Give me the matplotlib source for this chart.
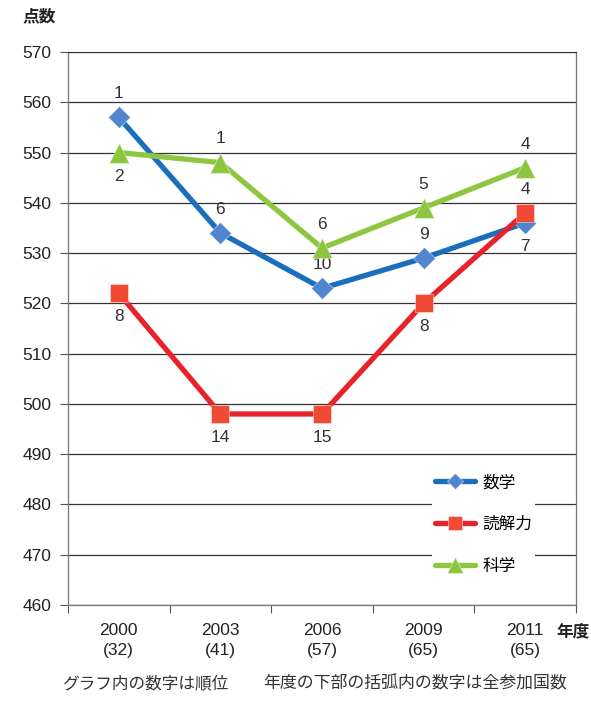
import matplotlib
import numpy as np

matplotlib.use("Agg")
import matplotlib.pyplot as plt

plt.rcParams["font.family"] = ["Liberation Sans", "Noto Sans CJK JP"]

jahre = ["2000", "2003", "2006", "2009", "2011"]
teilnehmer = ["(32)", "(41)", "(57)", "(65)", "(65)"]

mathe = [557, 534, 523, 529, 536]
lesen = [522, 498, 498, 520, 538]
natur = [550, 548, 531, 539, 547]

rang_mathe = [1, 6, 10, 9, 7]
rang_lesen = [8, 14, 15, 8, 4]
rang_natur = [2, 1, 6, 5, 4]

# +1 = Rang ueber dem Punkt, -1 = darunter
seite_mathe = [1, 1, 1, 1, -1]
seite_lesen = [-1, -1, -1, -1, 1]
seite_natur = [-1, 1, 1, 1, 1]

fig = plt.figure(figsize=(5.91, 7.02), dpi=100)
ax = fig.add_axes([68 / 591, 1 - 605 / 702, 508 / 591, 553 / 702])

x = np.arange(len(jahre))
reihen = [
    ("数学", mathe, rang_mathe, seite_mathe, "#1a6fbd", "D", "#4f86cf", 11.5),
    ("読解力", lesen, rang_lesen, seite_lesen, "#e8222a", "s", "#f04a35", 13),
    ("科学", natur, rang_natur, seite_natur, "#8dc63f", "^", "#8cc63f", 15),
]
for name, werte, raenge, seiten, farbe, marker, mfarbe, msize in reihen:
    ax.plot(x, werte, color=farbe, lw=3.8, marker=marker, ms=msize,
            mfc=mfarbe, mec="#ffffff80", mew=0.6, label=name, zorder=3,
            solid_capstyle="round")
    for xi, w, r, s in zip(x, werte, raenge, seiten):
        ax.annotate(str(r), (xi, w), xytext=(0, 17 * s), textcoords="offset points",
                    ha="center", va="center", fontsize=12.5, color="#333333")

ax.set_xlim(-0.5, 4.5)
ax.set_ylim(460, 570)
ax.set_yticks(np.arange(460, 571, 10))
ax.tick_params(axis="y", labelsize=12.5, length=6, color="#555555", labelcolor="#222222", pad=6)
ax.yaxis.grid(True, color="#333333", lw=0.9)
ax.set_axisbelow(True)

ax.set_xticks(np.arange(-0.5, 4.6, 1.0))
ax.set_xticklabels([])
ax.tick_params(axis="x", length=6, color="#555555")
for xi, j, t in zip(x, jahre, teilnehmer):
    ax.text(xi, -0.032, f"{j}\n{t}", transform=ax.get_xaxis_transform(),
            ha="center", va="top", fontsize=12.5, color="#222222", linespacing=1.45)

for s in ["left", "right", "bottom"]:
    ax.spines[s].set_color("#777777")
    ax.spines[s].set_linewidth(0.9)
ax.spines["top"].set_color("#333333")

leg = ax.legend(loc="upper left", bbox_to_anchor=(424 / 591, 1 - 464 / 702),
                bbox_transform=fig.transFigure, frameon=True, markerscale=0.75,
                fontsize=12, handlelength=2.4, labelspacing=1.6, borderpad=0.15,
                handletextpad=0.45, fancybox=False)
leg.get_frame().set_edgecolor("none")
leg.get_frame().set_facecolor("white")
leg.get_frame().set_alpha(1)

fig.text(22 / 591, 1 - 16 / 702, "点数", fontsize=12, fontweight="bold", va="center", color="#222222")
fig.text(556 / 591, 1 - 632 / 702, "年度", fontsize=12, fontweight="bold", va="center", color="#222222")
fig.text(62 / 591, 1 - 683 / 702, "グラフ内の数字は順位", fontsize=12, va="center", color="#333333")
fig.text(263 / 591, 1 - 683 / 702, "年度の下部の括弧内の数字は全参加国数", fontsize=12.2, va="center", color="#333333")

fig.savefig("out.png", dpi=100)
